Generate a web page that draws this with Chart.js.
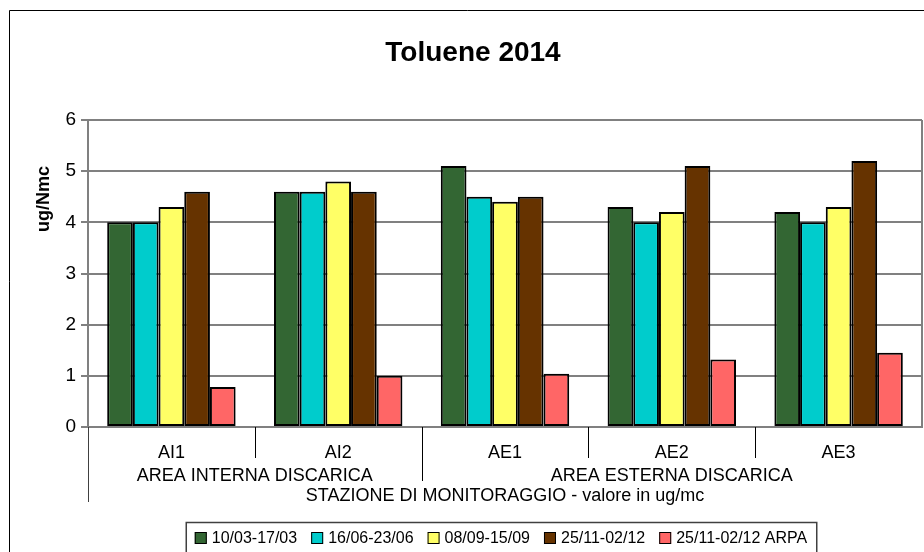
<!DOCTYPE html>
<html>
<head>
<meta charset="utf-8">
<script src="https://cdn.jsdelivr.net/npm/chart.js@4"></script>
<style>
  html, body { margin: 0; padding: 0; background: #fff; }
  #wrap { width: 924px; height: 552px; }
</style>
</head>
<body>
<div id="wrap"><canvas id="chart" width="924" height="552"></canvas></div>
<script>
// --- dati ---
const stations = ['AI1', 'AI2', 'AE1', 'AE2', 'AE3'];
const groupLabels = ['AREA INTERNA DISCARICA', 'AREA ESTERNA DISCARICA'];
const groupSizes = [2, 3];
const seriesLabels = ['10/03-17/03', '16/06-23/06', '08/09-15/09', '25/11-02/12', '25/11-02/12 ARPA'];
const seriesColors = ['#336633', '#00CCCC', '#FFFF66', '#663300', '#FF6666'];
const marzo = [4.0, 4.6, 5.1, 4.3, 4.2];
const giugno = [4.0, 4.6, 4.5, 4.0, 4.0];
const settembre = [4.3, 4.8, 4.4, 4.2, 4.3];
const novembre = [4.6, 4.6, 4.5, 5.1, 5.2];
const arpa = [0.78, 1.0, 1.04, 1.32, 1.45];
const yTicks = [0, 1, 2, 3, 4, 5, 6];

const FONT = "'Liberation Sans', Arial, sans-serif";
const seriesValues = [marzo, giugno, settembre, novembre, arpa];

// disegna cornice, titolo, etichette di gruppo e legenda
const decorations = {
    id: 'decorations',
    beforeDraw(chart) {
        const ctx = chart.ctx;
        ctx.save();
        ctx.fillStyle = '#fff';
        ctx.fillRect(0, 0, chart.width, chart.height);
        ctx.restore();
    },
    afterDraw(chart) {
        const ctx = chart.ctx;
        const area = chart.chartArea;
        const x = chart.scales.x;
        ctx.save();

        // cornice esterna
        ctx.strokeStyle = '#000';
        ctx.lineWidth = 1;
        ctx.beginPath();
        ctx.moveTo(9.5, chart.height + 5);
        ctx.lineTo(9.5, 10.5);
        ctx.lineTo(chart.width + 5, 10.5);
        ctx.stroke();

        // titolo
        ctx.fillStyle = '#000';
        ctx.font = `bold 28px ${FONT}`;
        ctx.textAlign = 'center';
        ctx.textBaseline = 'middle';
        ctx.fillText('Toluene 2014', 473, 53);

        // titolo asse y
        ctx.save();
        ctx.translate(44, 199);
        ctx.rotate(-Math.PI / 2);
        ctx.font = `bold 18px ${FONT}`;
        ctx.fillText('ug/Nmc', 0, 0);
        ctx.restore();

        // bordo destro dell'area del grafico
        ctx.strokeStyle = '#808080';
        ctx.lineWidth = 2;
        ctx.beginPath();
        ctx.moveTo(area.right, area.top);
        ctx.lineTo(area.right, area.bottom);
        ctx.stroke();

        // separatori sotto l'asse x
        const half = (x.getPixelForValue(1) - x.getPixelForValue(0)) / 2;
        const groupEnds = [];
        let acc = 0;
        groupSizes.forEach(n => { acc += n; groupEnds.push(acc); });
        ctx.strokeStyle = '#000';
        ctx.lineWidth = 1;
        for (let i = 1; i < stations.length; i++) {
            const px = Math.round(x.getPixelForValue(i) - half) + 0.5;
            const isGroupEnd = groupEnds.includes(i);
            ctx.beginPath();
            ctx.moveTo(px, area.bottom);
            ctx.lineTo(px, isGroupEnd ? 481 : 458);
            ctx.stroke();
        }
        ctx.strokeStyle = '#404040';
        ctx.beginPath();
        ctx.moveTo(area.left + 0.5, area.bottom);
        ctx.lineTo(area.left + 0.5, 502);
        ctx.stroke();

        // etichette di gruppo
        ctx.fillStyle = '#000';
        ctx.font = `18px ${FONT}`;
        let start = 0;
        groupLabels.forEach((label, g) => {
            const end = start + groupSizes[g] - 1;
            const cx = (x.getPixelForValue(start) + x.getPixelForValue(end)) / 2;
            ctx.fillText(label, cx, 476);
            start = end + 1;
        });
        ctx.fillText('STAZIONE DI MONITORAGGIO - valore in ug/mc', (area.left + area.right) / 2, 496);

        // legenda
        ctx.font = `16px ${FONT}`;
        const box = 12, gapBox = 5, gapItem = 14, pad = 9;
        const widths = seriesLabels.map(t => ctx.measureText(t).width);
        const total = widths.reduce((a, w) => a + box + gapBox + w, 0) + gapItem * (seriesLabels.length - 1);
        const lx = 501 - total / 2 - pad;
        ctx.strokeStyle = '#404040';
        ctx.lineWidth = 1.5;
        ctx.strokeRect(lx + 0.5, 522.5, total + pad * 2, 40);
        let cur = lx + pad;
        const cy = 538;
        ctx.textAlign = 'left';
        seriesLabels.forEach((t, i) => {
            ctx.fillStyle = seriesColors[i];
            ctx.fillRect(cur, cy - box / 2, box, box);
            ctx.strokeStyle = '#000';
            ctx.lineWidth = 1;
            ctx.strokeRect(cur + 0.5, cy - box / 2 + 0.5, box - 1, box - 1);
            ctx.fillStyle = '#000';
            ctx.fillText(t, cur + box + gapBox, cy + 1);
            cur += box + gapBox + widths[i] + gapItem;
        });

        ctx.restore();
    }
};

new Chart(document.getElementById('chart'), {
    type: 'bar',
    data: {
        labels: stations,
        datasets: seriesLabels.map((label, i) => ({
            label,
            data: seriesValues[i],
            backgroundColor: seriesColors[i],
            borderColor: '#000',
            borderWidth: 2,
            borderSkipped: false,
            categoryPercentage: 0.77,
            barPercentage: 1
        }))
    },
    options: {
        responsive: false,
        animation: false,
        layout: { padding: { left: 0, top: 120, right: 2, bottom: 75 } },
        plugins: {
            legend: { display: false },
            title: { display: false },
            tooltip: { enabled: false }
        },
        scales: {
            x: {
                afterFit: s => { s.height = 50; },
                grid: { display: false },
                border: { display: true, color: '#808080', width: 2 },
                ticks: { color: '#000', font: { family: FONT, size: 18 }, padding: 7 }
            },
            y: {
                min: 0,
                max: 6,
                afterFit: s => { s.width = 88; },
                afterBuildTicks: s => { s.ticks = yTicks.map(v => ({ value: v })); },
                grid: { color: '#808080', lineWidth: 2, tickLength: 7, tickColor: '#808080' },
                border: { display: true, color: '#808080', width: 2 },
                ticks: { color: '#000', font: { family: FONT, size: 19 }, padding: 5 }
            }
        }
    },
    plugins: [decorations]
});
</script>
</body>
</html>
